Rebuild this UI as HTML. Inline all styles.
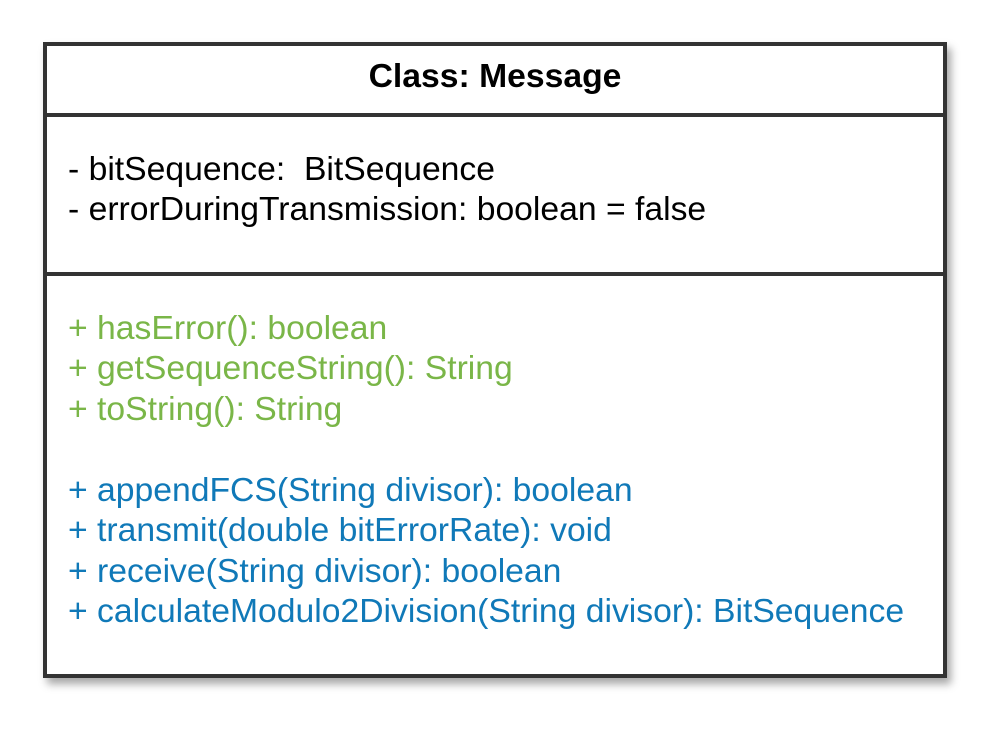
<!DOCTYPE html>
<html><head><style>
body{margin:0;width:996px;height:741px;background:#fff;position:relative;font-family:"Liberation Sans",sans-serif;overflow:hidden}
.box{position:absolute;left:43px;top:42px;width:896px;height:628px;border:4px solid #333;box-shadow:4px 6px 8px rgba(0,0,0,0.35);background:#fff}
.hr{position:absolute;left:0;width:896px;height:4px;background:#333}
.t{position:absolute;left:21px;font-size:33.7px;white-space:nowrap;line-height:1}
.g{color:#7ab648}.b{color:#1079b8}
</style></head><body>
<div class="box">
<div style="position:absolute;left:0;width:896px;top:14px;text-align:center;font-weight:bold;font-size:33.7px;line-height:1">Class: Message</div>
<div class="hr" style="top:67px"></div>
<div class="t" style="top:107px">- bitSequence:&nbsp; BitSequence</div>
<div class="t" style="top:147px">- errorDuringTransmission: boolean = false</div>
<div class="hr" style="top:226px"></div>
<div class="t g" style="top:266px">+ hasError(): boolean</div>
<div class="t g" style="top:306px">+ getSequenceString(): String</div>
<div class="t g" style="top:347px">+ toString(): String</div>
<div class="t b" style="top:428px">+ appendFCS(String divisor): boolean</div>
<div class="t b" style="top:468px">+ transmit(double bitErrorRate): void</div>
<div class="t b" style="top:509px">+ receive(String divisor): boolean</div>
<div class="t b" style="top:549px">+ calculateModulo2Division(String divisor): BitSequence</div>
</div>
</body></html>
